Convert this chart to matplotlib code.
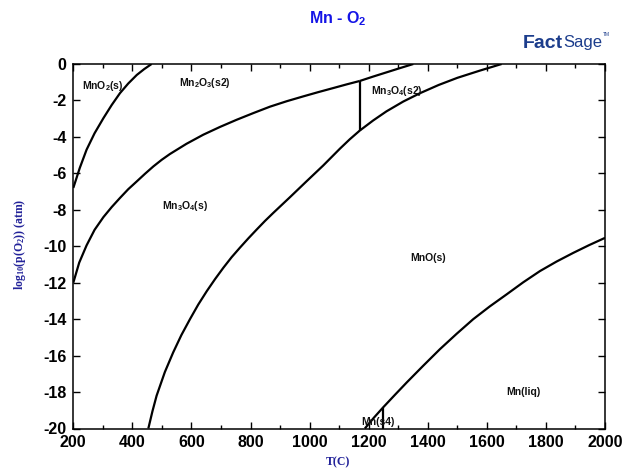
import matplotlib
matplotlib.use("Agg")
import matplotlib.pyplot as plt
from matplotlib.ticker import MultipleLocator
import warnings
warnings.filterwarnings("ignore")

plt.rcParams['mathtext.default'] = 'regular'
plt.rcParams['axes.unicode_minus'] = False

# ---- data (T in C, log10 p(O2) in atm) ----
t_mno2 = [200, 222, 245, 272, 302, 330, 358, 386, 415, 440, 465]
p_mno2 = [-6.8, -5.7, -4.7, -3.8, -2.97, -2.25, -1.6, -1.07, -0.6, -0.28, 0.0]

t_mn2o3 = [200, 220, 245, 272, 302, 330, 358, 386, 415, 443, 471, 499, 527, 583,
           640, 697, 753, 810, 866, 923, 980, 1030, 1080, 1125, 1170]
p_mn2o3 = [-12.0, -10.9, -9.95, -9.1, -8.4, -7.85, -7.35, -6.87, -6.44, -6.02, -5.62,
           -5.26, -4.94, -4.38, -3.88, -3.45, -3.06, -2.69, -2.34, -2.04, -1.77, -1.54,
           -1.32, -1.12, -0.93]

t_mn2o3_s2 = [1170, 1215, 1260, 1305, 1351]
p_mn2o3_s2 = [-0.93, -0.69, -0.46, -0.23, 0.0]

t_mn3o4 = [454, 468, 482, 510, 538, 566, 595, 623, 652, 680, 708, 736, 764, 793,
           821, 849, 877, 934, 990, 1046, 1103, 1136, 1170]
p_mn3o4 = [-20.0, -19.05, -18.2, -16.9, -15.83, -14.87, -14.0, -13.2, -12.46, -11.8,
           -11.18, -10.6, -10.08, -9.56, -9.08, -8.61, -8.17, -7.3, -6.43, -5.57,
           -4.64, -4.13, -3.65]

t_mn3o4_s2 = [1170, 1215, 1260, 1317, 1374, 1437, 1500, 1575, 1650]
p_mn3o4_s2 = [-3.65, -3.1, -2.6, -2.06, -1.60, -1.15, -0.76, -0.37, 0.0]

t_trans = [1170, 1170]
p_trans = [-0.93, -3.65]

t_mno = [1187, 1218, 1249, 1289, 1329, 1385, 1441, 1498, 1554, 1610, 1667, 1723,
         1780, 1836, 1893, 1946, 2000]
p_mno = [-20.0, -19.4, -18.84, -18.15, -17.47, -16.55, -15.65, -14.8, -14.0, -13.3,
         -12.64, -11.98, -11.36, -10.84, -10.36, -9.94, -9.54]

t_melt = [1247, 1247]
p_melt = [-20.0, -18.87]

labels = ['MnO$_2$(s)', 'Mn$_2$O$_3$(s2)', 'Mn$_3$O$_4$(s)', 'Mn$_3$O$_4$(s2)',
          'MnO(s)', 'Mn(liq)', 'Mn(s4)']
label_t = [300, 646, 578, 1295, 1402, 1723, 1232]
label_p = [-1.2, -1.06, -7.8, -1.48, -10.63, -18.0, -19.66]

xticks = [200, 400, 600, 800, 1000, 1200, 1400, 1600, 1800, 2000]
yticks = [0, -2, -4, -6, -8, -10, -12, -14, -16, -18, -20]

# ---- figure ----
fig = plt.figure(figsize=(6.3, 4.7), dpi=100)
ax = fig.add_axes([73.3/630, 1-428.5/470, (605-73.3)/630, (428.5-64)/470])

lc = 'black'
lw = 1.6
for t, p in [(t_mno2, p_mno2), (t_mn2o3, p_mn2o3), (t_mn2o3_s2, p_mn2o3_s2),
             (t_mn3o4, p_mn3o4), (t_mn3o4_s2, p_mn3o4_s2), (t_trans, p_trans),
             (t_mno, p_mno), (t_melt, p_melt)]:
    ax.plot(t, p, color=lc, lw=lw, solid_capstyle='butt', solid_joinstyle='round')

for s, t, p in zip(labels, label_t, label_p):
    ax.text(t, p, s, fontsize=7.5, fontweight='bold', family='Liberation Sans',
            ha='center', va='center', color='#111111')

ax.set_xlim(200, 2000)
ax.set_ylim(-20, 0)
ax.set_xticks(xticks)
ax.set_yticks(yticks)
ax.xaxis.set_minor_locator(MultipleLocator(100))
ax.tick_params(which='both', direction='in', top=True, right=True, width=1)
ax.tick_params(which='major', length=5, pad=5)
ax.tick_params(which='minor', length=3)
for lab in ax.get_xticklabels() + ax.get_yticklabels():
    lab.set_family(['Liberation Sans Narrow', 'Liberation Sans'])
    lab.set_fontweight('bold')
    lab.set_fontsize(11.5)
for sp in ax.spines.values():
    sp.set_linewidth(1.1)

fig.text(338/630, 1-19/470, 'Mn - O$_2$', ha='center', va='center', fontsize=11.5,
         fontweight='bold', family='Liberation Sans', color='#1414e6')
fig.text(20/630, 1-244/470, 'log$_{10}$(p(O$_2$)) (atm)', rotation=90, ha='center',
         va='center', fontsize=8.5, fontweight='bold', family='Liberation Serif',
         color='#222299')
fig.text(338/630, 1-462/470, 'T(C)', ha='center', va='center', fontsize=8.5,
         fontweight='bold', family='Liberation Serif', color='#222299')

# logo
fig.text(563/630, 1-43/470, 'Fact', ha='right', va='center', fontsize=14,
         fontweight='heavy', family='Liberation Sans', color='#1c3d8c')
fig.text(563/630, 1-43/470, 'Sage', ha='left', va='center', fontsize=12,
         family=['Liberation Sans Narrow', 'Liberation Sans'], color='#1c3d8c')
fig.text(603/630, 1-35/470, 'TM', ha='left', va='center', fontsize=3.5,
         family='Liberation Sans', color='#1c3d8c')

fig.savefig('out.png', dpi=100, facecolor='white')
